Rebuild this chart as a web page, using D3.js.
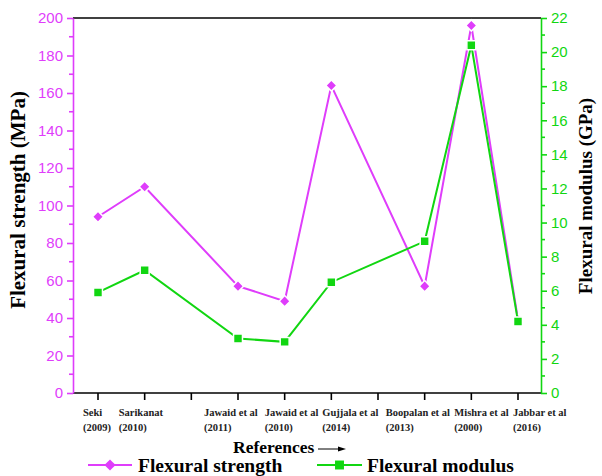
<!DOCTYPE html>
<html>
<head>
<meta charset="utf-8">
<script src="https://cdnjs.cloudflare.com/ajax/libs/d3/7.8.5/d3.min.js"></script>
<style>
  body { margin: 0; background: #fff; }
  svg text { font-family: "Liberation Serif", "Times New Roman", serif; }
</style>
</head>
<body>
<svg id="chart" width="602" height="476"></svg>
<script>
// categories (10 slots on the x axis, empty ones have no data)
var refNames = ['Seki', 'Sarikanat', '', 'Jawaid et al', 'Jawaid et al', 'Gujjala et al', '', 'Boopalan et al', 'Mishra et al', 'Jabbar et al'];
var refYears = ['(2009)', '(2010)', '', '(2011)', '(2010)', '(2014)', '', '(2013)', '(2000)', '(2016)'];
var strength = [94, 110, null, 57, 49, 164, null, 57, 196, 39];          // MPa
var modulus  = [5.9, 7.2, null, 3.2, 3.0, 6.5, null, 8.9, 20.4, 4.2];   // GPa
var strengthTicks = d3.range(0, 201, 20);
var modulusTicks = d3.range(0, 23, 2);

// label nudges, the labels in the picture are not centred on the ticks
var labelShift = [-15, -26, 0, -34, -20, -9, 0, -39, -17, -5];

var purple = '#df3dfb', green = '#11d611';
var svg = d3.select('#chart');
var mLeft = 73, mRight = 541, mTop = 18, mBottom = 393;

var x = d3.scaleLinear().domain([0, 9]).range([98, 518]);
var yL = d3.scaleLinear().domain([0, 200]).range([mBottom, mTop]);
var yR = d3.scaleLinear().domain([0, 22]).range([mBottom, mTop]);

// frame top/bottom
svg.append('line').attr('x1', mLeft).attr('x2', mRight).attr('y1', mTop).attr('y2', mTop)
  .attr('stroke', '#000').attr('stroke-width', 1.6);
svg.append('line').attr('x1', mLeft).attr('x2', mRight).attr('y1', mBottom).attr('y2', mBottom)
  .attr('stroke', '#000').attr('stroke-width', 1.6);

// bottom ticks
svg.append('g').selectAll('line').data(d3.range(10)).enter().append('line')
  .attr('x1', function(d) { return x(d); }).attr('x2', function(d) { return x(d); })
  .attr('y1', mBottom).attr('y2', mBottom + 7)
  .attr('stroke', '#000').attr('stroke-width', 1.6);

// left axis
var gL = svg.append('g').attr('transform', 'translate(' + mLeft + ',0)');
gL.call(d3.axisLeft(yL).tickValues(strengthTicks).tickSize(6).tickPadding(4).tickSizeOuter(0));
gL.select('.domain').attr('stroke', purple).attr('stroke-width', 1.6);
gL.selectAll('.tick line').attr('stroke', purple).attr('stroke-width', 1.6);
gL.selectAll('.tick text').attr('fill', purple).style('font-family', 'Liberation Sans, Arial, sans-serif').style('font-size', '15px');
gL.selectAll('.minor').data(d3.range(10, 200, 20)).enter().append('line')
  .attr('x1', 0).attr('x2', -4).attr('y1', function(d) { return yL(d); }).attr('y2', function(d) { return yL(d); })
  .attr('stroke', purple).attr('stroke-width', 1.6);

// right axis
var gR = svg.append('g').attr('transform', 'translate(' + mRight + ',0)');
gR.call(d3.axisRight(yR).tickValues(modulusTicks).tickSize(6).tickPadding(4).tickSizeOuter(0));
gR.select('.domain').attr('stroke', green).attr('stroke-width', 1.6);
gR.selectAll('.tick line').attr('stroke', green).attr('stroke-width', 1.6);
gR.selectAll('.tick text').attr('fill', green).style('font-family', 'Liberation Sans, Arial, sans-serif').style('font-size', '15px');
gR.selectAll('.minor').data(d3.range(1, 22, 2)).enter().append('line')
  .attr('x1', 0).attr('x2', 4).attr('y1', function(d) { return yR(d); }).attr('y2', function(d) { return yR(d); })
  .attr('stroke', green).attr('stroke-width', 1.6);

// category labels
var lab = svg.append('g').selectAll('text').data(d3.range(10).filter(function(i) { return refNames[i]; })).enter()
  .append('text').attr('font-weight', 'bold').attr('font-size', '10.5px').attr('fill', '#222');
lab.append('tspan').attr('x', function(i) { return x(i) + labelShift[i]; }).attr('y', 416).text(function(i) { return refNames[i]; });
lab.append('tspan').attr('x', function(i) { return x(i) + labelShift[i]; }).attr('y', 431).text(function(i) { return refYears[i]; });

// lines and markers (diamond = square turned 45deg)
function drawSeries(vals, yS, col, rot, size) {
  var pts = vals.map(function(v, i) { return { i: i, v: v }; }).filter(function(d) { return d.v !== null; });
  var line = d3.line().x(function(d) { return x(d.i); }).y(function(d) { return yS(d.v); });
  svg.append('path').datum(pts).attr('d', line).attr('fill', 'none')
    .attr('stroke', col).attr('stroke-width', 2);
  svg.append('g').selectAll('path').data(pts).enter().append('path')
    .attr('transform', function(d) { return 'translate(' + x(d.i) + ',' + yS(d.v) + ') rotate(' + rot + ')'; })
    .attr('d', d3.symbol().type(d3.symbolSquare).size(size))
    .attr('fill', col).attr('stroke', '#fff').attr('stroke-width', 1.5);
}
drawSeries(strength, yL, purple, 45, 62);
drawSeries(modulus, yR, green, 0, 80);

// axis titles
svg.append('text').attr('transform', 'translate(25,200) rotate(-90)').attr('text-anchor', 'middle')
  .attr('font-weight', 'bold').attr('font-size', '21px').text('Flexural strength (MPa)');
svg.append('text').attr('transform', 'translate(592,196) rotate(-90)').attr('text-anchor', 'middle')
  .attr('font-weight', 'bold').attr('font-size', '19px').text('Flexural modulus (GPa)');

// x title with arrow
svg.append('text').attr('x', 233).attr('y', 453).attr('font-weight', 'bold').attr('font-size', '17.5px')
  .text('References');
svg.append('line').attr('x1', 318).attr('x2', 340).attr('y1', 449).attr('y2', 449).attr('stroke', '#000').attr('stroke-width', 1);
svg.append('path').attr('d', 'M338,446.5 L346,449 L338,451.5 Z').attr('fill', '#000');

// legend
var legend = [
  { name: 'Flexural strength', col: purple, rot: 45, size: 62, x1: 88, x2: 132, tx: 138 },
  { name: 'Flexural modulus', col: green, rot: 0, size: 80, x1: 317, x2: 362, tx: 367 }
];
var lg = svg.append('g').selectAll('g').data(legend).enter().append('g');
lg.append('line').attr('x1', function(d) { return d.x1; }).attr('x2', function(d) { return d.x2; })
  .attr('y1', 465).attr('y2', 465).attr('stroke', function(d) { return d.col; }).attr('stroke-width', 2);
lg.append('path').attr('transform', function(d) { return 'translate(' + (d.x1 + d.x2) / 2 + ',465) rotate(' + d.rot + ')'; })
  .attr('d', function(d) { return d3.symbol().type(d3.symbolSquare).size(d.size)(); })
  .attr('fill', function(d) { return d.col; });
lg.append('text').attr('x', function(d) { return d.tx; }).attr('y', 472)
  .attr('font-weight', 'bold').attr('font-size', '19.5px').text(function(d) { return d.name; });
</script>
</body>
</html>
